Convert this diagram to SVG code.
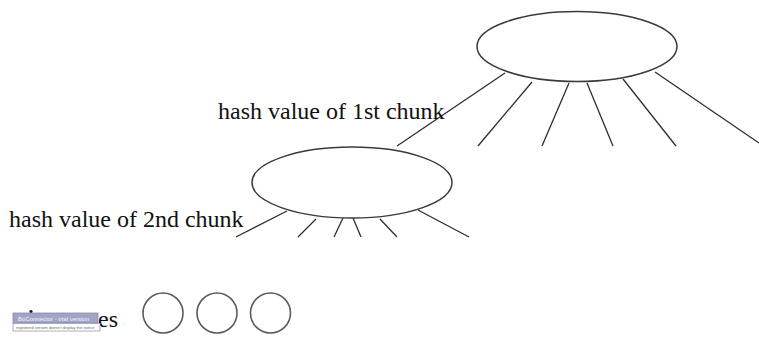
<svg xmlns="http://www.w3.org/2000/svg" width="759" height="339" viewBox="0 0 759 339">
<style>
.node{fill:#fff;stroke:#3a3a3a;stroke-width:1.5}
.leaf{fill:#fff;stroke:#5a5a5a;stroke-width:1.6}
.edge{stroke:#2e2e2e;stroke-width:1.3;fill:none}
.lbl{font-family:"Liberation Serif","Times New Roman",serif;font-size:24px;fill:#111}
.tip{font-family:"Liberation Sans",Arial,sans-serif}
</style>
<rect width="759" height="339" fill="#fff"/>
<g id="connectors">
<line class="edge" x1="505" y1="73" x2="397" y2="146"/>
<line class="edge" x1="532" y1="82" x2="478" y2="146"/>
<line class="edge" x1="569" y1="83" x2="542" y2="146"/>
<line class="edge" x1="587" y1="83" x2="613" y2="146"/>
<line class="edge" x1="623" y1="79" x2="676" y2="146"/>
<line class="edge" x1="655" y1="72" x2="759" y2="143"/>
<line class="edge" x1="287" y1="211" x2="236" y2="237"/>
<line class="edge" x1="316" y1="219" x2="298" y2="237"/>
<line class="edge" x1="343" y1="218" x2="334" y2="237"/>
<line class="edge" x1="353" y1="218" x2="361" y2="237"/>
<line class="edge" x1="380" y1="219" x2="397" y2="237"/>
<line class="edge" x1="418" y1="210" x2="469" y2="237"/>
</g>
<g id="root-node">
<ellipse class="node" cx="577" cy="46.5" rx="100" ry="35"/>
</g>
<g id="child-node">
<ellipse class="node" cx="352" cy="182.5" rx="100" ry="35.5"/>
</g>
<g id="label-1st">
<text class="lbl" x="218" y="119">hash value of 1st chunk</text>
</g>
<g id="label-2nd">
<text class="lbl" x="9" y="227">hash value of 2nd chunk</text>
</g>
<g id="leaf-label">
<circle cx="31" cy="311.5" r="1.6" fill="#111"/>
<text class="lbl" x="98" y="327">es</text>
</g>
<g id="leaf-1"><circle class="leaf" cx="163" cy="313" r="20"/></g>
<g id="leaf-2"><circle class="leaf" cx="217" cy="313" r="20"/></g>
<g id="leaf-3"><circle class="leaf" cx="270.5" cy="313" r="20"/></g>
<g id="tooltip">
<rect x="13" y="313" width="85" height="10" fill="#a3a3c6" stroke="#8a8ab0" stroke-width="0.8"/>
<text class="tip" x="18" y="320.5" font-size="6" fill="#f4f4ff">BoConnector - trial version</text>
<rect x="13" y="323.5" width="87" height="7.5" fill="#fff" stroke="#9a9aaa" stroke-width="0.8"/>
<text class="tip" x="16" y="329.2" font-size="4" fill="#666">registered version doesn't display this notice</text>
</g>
</svg>
